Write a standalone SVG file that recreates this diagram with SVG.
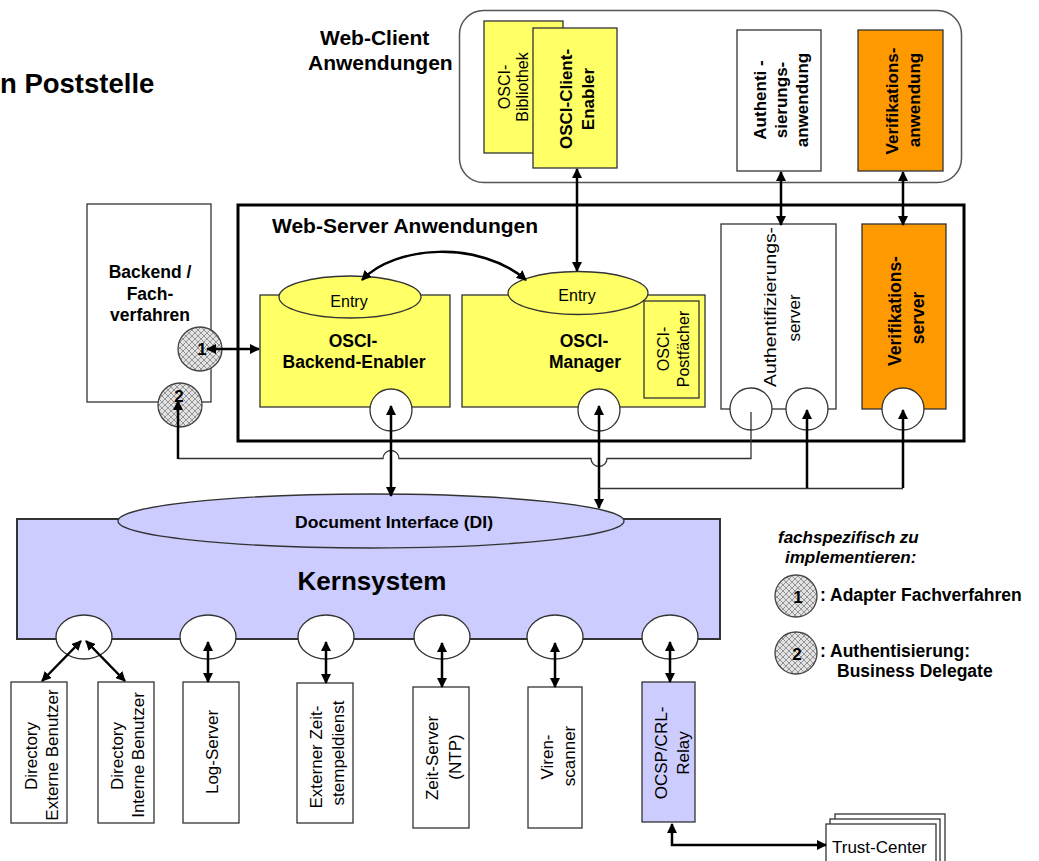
<svg xmlns="http://www.w3.org/2000/svg" width="1039" height="861" viewBox="0 0 1039 861">
<defs>
<style>
text{font-family:"Liberation Sans",Arial,sans-serif;fill:#000}
.b{font-weight:bold}
.box{stroke:#333;stroke-width:1.3}
.yel{fill:#ffff66}
.org{fill:#ff9900}
.lav{fill:#ccccff}
.wht{fill:#fff}
.port{fill:#fff;stroke:#333;stroke-width:1.3}
.hatch{fill:url(#hatch);stroke:#444;stroke-width:1.3}
.thick{fill:none;stroke:#000;stroke-width:2.5;marker-end:url(#ah)}
.dbl{marker-start:url(#ah)}
.thin{fill:none;stroke:#333;stroke-width:1.3}
.vt{text-anchor:middle;dominant-baseline:central}
.mid{text-anchor:middle}
</style>
<pattern id="hatch" width="6" height="6" patternUnits="userSpaceOnUse">
<rect width="6" height="6" fill="#e2e2e2"/>
<path d="M0,0 L6,6 M6,0 L0,6" stroke="#808080" stroke-width="0.8"/>
</pattern>
<marker id="ah" viewBox="0 0 10 10" refX="9" refY="5" markerWidth="10" markerHeight="10" markerUnits="userSpaceOnUse" orient="auto-start-reverse">
<path d="M0,0 L10,5 L0,10 z" fill="#000"/>
</marker>
</defs>

<rect width="1039" height="861" fill="#fff"/>

<g id="title">
<text x="0" y="93" font-size="27.5" class="b">n Poststelle</text>
</g>

<g id="web-client">
<text x="320" y="45" font-size="21" class="b">Web-Client</text>
<text x="308" y="70" font-size="21" class="b">Anwendungen</text>
<rect x="459.5" y="10.5" width="502" height="172" rx="24" fill="#fff" stroke="#555" stroke-width="1.5"/>
</g>

<g id="osci-bibliothek">
<rect x="484" y="21" width="79" height="132" class="box yel"/>
<text class="vt" font-size="16" transform="translate(504,87) rotate(-90)">OSCI-</text>
<text class="vt" font-size="16" transform="translate(522,87) rotate(-90)">Bibliothek</text>
</g>

<g id="osci-client-enabler">
<rect x="533" y="28" width="84" height="140" class="box yel"/>
<text class="vt b" font-size="17" transform="translate(566,99) rotate(-90)">OSCI-Client-</text>
<text class="vt b" font-size="17" transform="translate(588,99) rotate(-90)">Enabler</text>
</g>

<g id="authentisierungsanwendung">
<rect x="737" y="30" width="84" height="141" class="box wht"/>
<text class="vt b" font-size="17" transform="translate(760,100) rotate(-90)">Authenti -</text>
<text class="vt b" font-size="17" transform="translate(781,100) rotate(-90)">sierungs-</text>
<text class="vt b" font-size="17" transform="translate(802,100) rotate(-90)">anwendung</text>
</g>

<g id="verifikationsanwendung">
<rect x="858" y="30" width="85" height="141" class="box org"/>
<text class="vt b" font-size="17" transform="translate(892,101) rotate(-90)">Verifikations-</text>
<text class="vt b" font-size="17" transform="translate(914,100) rotate(-90)">anwendung</text>
</g>

<g id="backend">
<rect x="87" y="204" width="124" height="198" class="box wht"/>
<text x="150" y="278" font-size="17.5" class="b mid">Backend /</text>
<text x="150" y="300" font-size="17.5" class="b mid">Fach-</text>
<text x="150" y="321" font-size="17.5" class="b mid">verfahren</text>
</g>

<g id="web-server">
<rect x="238" y="205" width="726" height="236" fill="none" stroke="#000" stroke-width="3"/>
<text x="272" y="233" font-size="21" class="b">Web-Server Anwendungen</text>
</g>

<g id="osci-backend-enabler">
<rect x="260" y="295" width="190" height="112" class="box yel"/>
<ellipse cx="350" cy="297" rx="71" ry="21" class="box yel"/>
<text x="349" y="307" font-size="16" class="mid">Entry</text>
<text x="353" y="347" font-size="17.5" class="b mid">OSCI-</text>
<text x="354" y="368" font-size="17.5" class="b mid">Backend-Enabler</text>
<circle cx="391" cy="410" r="21" class="port"/>
</g>

<g id="osci-manager">
<rect x="462" y="295" width="243" height="112" class="box yel"/>
<ellipse cx="578" cy="293" rx="70" ry="21.5" class="box yel"/>
<text x="577" y="301" font-size="16" class="mid">Entry</text>
<text x="584" y="347" font-size="17.5" class="b mid">OSCI-</text>
<text x="585" y="368" font-size="17.5" class="b mid">Manager</text>
<rect x="644" y="301" width="55" height="97" class="box yel"/>
<text class="vt" font-size="16" transform="translate(663,349) rotate(-90)">OSCI-</text>
<text class="vt" font-size="16" transform="translate(683,349) rotate(-90)">Postfächer</text>
<circle cx="599" cy="410" r="21" class="port"/>
</g>

<g id="authentifizierungsserver">
<rect x="721" y="224" width="115" height="185" class="box wht"/>
<text class="vt" font-size="17" textLength="160" lengthAdjust="spacingAndGlyphs" transform="translate(770,307) rotate(-90)">Authentifizierungs-</text>
<text class="vt" font-size="17" transform="translate(794,318) rotate(-90)">server</text>
<circle cx="751" cy="409" r="21" class="port"/>
<circle cx="807" cy="409" r="21" class="port"/>
</g>

<g id="verifikationsserver">
<rect x="862" y="224" width="84" height="185" class="box org"/>
<text class="vt b" font-size="17.5" transform="translate(895,311) rotate(-90)">Verifikations-</text>
<text class="vt b" font-size="17.5" transform="translate(918,318) rotate(-90)">server</text>
<circle cx="903" cy="409" r="21" class="port"/>
</g>

<g id="adapter-1">
<circle cx="200" cy="349" r="22" class="hatch"/>
<text x="202" y="355" font-size="17" class="b mid">1</text>
</g>

<g id="adapter-2">
<circle cx="180" cy="405" r="22" class="hatch"/>
<text x="179" y="402" font-size="17" class="b mid">2</text>
</g>

<g id="kernsystem">
<rect x="17" y="519" width="703" height="120" class="lav" stroke="#333" stroke-width="2"/>
<ellipse cx="371" cy="521" rx="253" ry="27" class="box lav"/>
<text x="394" y="528" font-size="16.5" class="b mid" textLength="198" lengthAdjust="spacingAndGlyphs">Document Interface (DI)</text>
<text x="372" y="590" font-size="26" class="b mid">Kernsystem</text>
<ellipse cx="84" cy="637" rx="28" ry="22" class="port"/>
<ellipse cx="208" cy="637" rx="28" ry="22" class="port"/>
<ellipse cx="326" cy="637" rx="28" ry="22" class="port"/>
<ellipse cx="442" cy="637" rx="28" ry="22" class="port"/>
<ellipse cx="555" cy="637" rx="28" ry="22" class="port"/>
<ellipse cx="670" cy="637" rx="28" ry="22" class="port"/>
</g>

<g id="directory-extern">
<rect x="11" y="682" width="56" height="141" class="box wht"/>
<text class="vt" font-size="17" transform="translate(31,756) rotate(-90)">Directory</text>
<text class="vt" font-size="17" transform="translate(52,755) rotate(-90)">Externe Benutzer</text>
</g>
<g id="directory-intern">
<rect x="98" y="682" width="56" height="141" class="box wht"/>
<text class="vt" font-size="17" transform="translate(117,756) rotate(-90)">Directory</text>
<text class="vt" font-size="17" transform="translate(138,755) rotate(-90)">Interne Benutzer</text>
</g>
<g id="log-server">
<rect x="183" y="682" width="56" height="141" class="box wht"/>
<text class="vt" font-size="17" transform="translate(212,752) rotate(-90)">Log-Server</text>
</g>
<g id="zeitstempeldienst">
<rect x="297" y="683" width="56" height="140" class="box wht"/>
<text class="vt" font-size="17" transform="translate(316,757) rotate(-90)">Externer Zeit-</text>
<text class="vt" font-size="17" transform="translate(338,753) rotate(-90)">stempeldienst</text>
</g>
<g id="zeit-server">
<rect x="413" y="687" width="56" height="141" class="box wht"/>
<text class="vt" font-size="17" transform="translate(432,758) rotate(-90)">Zeit-Server</text>
<text class="vt" font-size="17" transform="translate(455,757) rotate(-90)">(NTP)</text>
</g>
<g id="virenscanner">
<rect x="528" y="687" width="54" height="141" class="box wht"/>
<text class="vt" font-size="17" transform="translate(547,757) rotate(-90)">Viren-</text>
<text class="vt" font-size="17" transform="translate(569,756) rotate(-90)">scanner</text>
</g>
<g id="ocsp-relay">
<rect x="642" y="682" width="53" height="140" class="box lav"/>
<text class="vt" font-size="17" transform="translate(661,753) rotate(-90)">OCSP/CRL-</text>
<text class="vt" font-size="17" transform="translate(683,753) rotate(-90)">Relay</text>
</g>

<g id="trust-center">
<rect x="835" y="814" width="110" height="60" class="box wht"/>
<rect x="830" y="819" width="110" height="60" class="box wht"/>
<rect x="826" y="824" width="110" height="60" class="box wht"/>
<text x="832" y="853" font-size="17">Trust-Center</text>
</g>

<g id="legend">
<text x="778" y="543" font-size="17" class="b" font-style="italic">fachspezifisch zu</text>
<text x="785" y="563" font-size="17" class="b" font-style="italic">implementieren:</text>
<circle cx="796" cy="596" r="21" class="hatch"/>
<text x="798" y="603" font-size="17" class="b mid">1</text>
<text x="820" y="601" font-size="17.5" class="b">: Adapter Fachverfahren</text>
<circle cx="796" cy="653" r="21" class="hatch"/>
<text x="797" y="660" font-size="17" class="b mid">2</text>
<text x="820" y="657" font-size="17.5" class="b">: Authentisierung:</text>
<text x="837" y="677" font-size="17.5" class="b">Business Delegate</text>
</g>

<g id="connectors">
<path class="thick dbl" d="M577,169 V271"/>
<path class="thick dbl" d="M781,172 V225"/>
<path class="thick dbl" d="M903,172 V225"/>
<path class="thick dbl" d="M362,280 C395,245 480,240 526,280"/>
<path class="thick dbl" d="M207,349 H259"/>
<path class="thin" d="M751,412 V458.5 H607 A8,8 0 0 1 591,458.5 H399 A8,8 0 0 0 383,458.5 H178"/>
<path class="thick" d="M178,459 V401"/>
<path class="thick dbl" d="M391,406 V496"/>
<path class="thick dbl" d="M599,406 V508"/>
<path class="thin" d="M599,488.5 H903"/>
<path class="thick" d="M807,488 V410"/>
<path class="thick" d="M903,488 V410"/>
<path class="thick dbl" d="M81,641 L42,681"/>
<path class="thick dbl" d="M86,641 L125,681"/>
<path class="thick dbl" d="M208,642 V682"/>
<path class="thick dbl" d="M326,642 V683"/>
<path class="thick dbl" d="M442,643 V687"/>
<path class="thick dbl" d="M555,643 V687"/>
<path class="thick dbl" d="M670,642 V682"/>
<path class="thick dbl" d="M672,824 V845 H826"/>
</g>
</svg>
